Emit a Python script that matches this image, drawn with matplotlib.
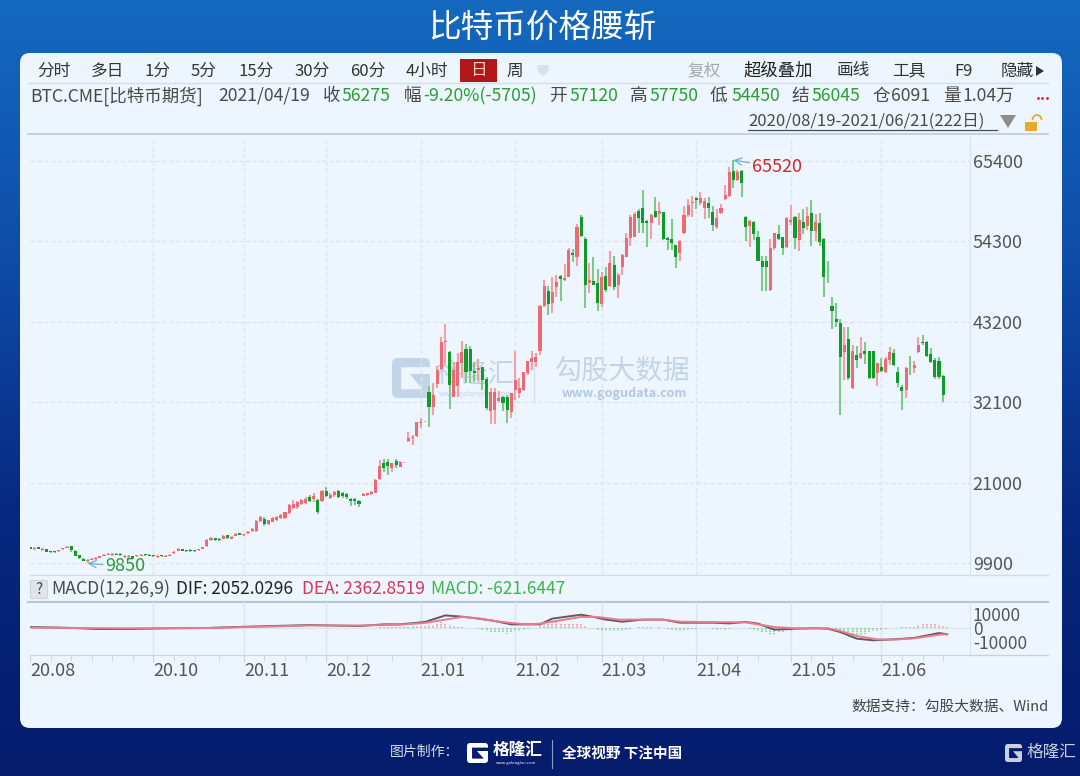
import numpy as np
import matplotlib
matplotlib.use("Agg")
import matplotlib.pyplot as plt
from matplotlib.colors import LinearSegmentedColormap
from matplotlib.patches import FancyBboxPatch, Rectangle, Polygon, Arc

plt.rcParams['font.family'] = ['Noto Sans CJK SC', 'DejaVu Sans']
plt.rcParams['axes.unicode_minus'] = False

W, H = 1080, 776

opens = [
    12040, 11820, 12090, 11680, 11790, 11570, 11530, 11500, 11770, 11950,
    12180, 11580, 11000, 10500, 10150, 10340, 10430, 10620, 10900, 11030,
    10980, 11200, 11120, 10700, 10720, 10800, 10800, 10900, 11100, 11060,
    10980, 10720, 10960, 10730, 10900, 11260, 11600, 11800, 11670, 11700,
    11650, 11640, 11860, 12180, 13100, 13290, 13250, 13280, 13740, 13230,
    13650, 14020, 13700, 14020, 14290, 14250, 15630, 16000, 15300, 15600,
    15900, 16100, 16100, 16800, 17500, 17700, 18000, 18200, 19000, 18700,
    18600, 18400, 19900, 18900, 19300, 19900, 19500, 19400, 18800, 18700,
    18500, 19200, 19300, 19400, 19600, 21500, 23700, 23900, 23000, 24000,
    23200, 23700,
    26806, 27128, 27450, 29198, 29360, 33568, 31406, 34626, 36650, 40468,
    39088, 32878, 34350, 37478, 39410, 39410, 36466, 36558, 36926, 35270,
    30946, 31038, 32326, 32786, 32786, 30808, 33798, 33430, 33798, 36098,
    37708, 37708,
    39228, 45438, 47508, 45852, 48060, 49532, 48980, 49440, 52660, 52200,
    57720, 54684, 48520, 48888, 48520, 45668, 49532, 48152, 51050, 48290,
    50728, 52200, 54730, 54960, 58548, 58870, 57168, 56892, 58548, 58088,
    58410, 54730, 54592, 53764, 52660, 55420, 57950, 59560, 60250, 59560,
    58870, 59560, 58410, 56248, 58272, 60112, 60572, 64068, 62780, 64068,
    57628, 56432, 57030, 54960, 51648, 51648, 47600, 53350, 55328, 54960,
    53580, 57030, 57628, 54500, 56938, 56432, 58272, 55788, 56800, 54638,
    49440, 45392, 43552, 43092, 39090, 40792, 34030, 38630, 38170, 39228,
    39182, 39182, 36100, 37020, 36330, 37940, 38952, 36330, 34260, 33800,
    36744, 36790, 39000, 40424, 40470, 38768, 37940, 37848, 35732,
]
highs = [
    12130, 12080, 12130, 11940, 11900, 11620, 11580, 11720, 12000, 12220,
    12270, 11630, 11000, 10600, 10400, 10600, 10700, 10900, 11180, 11300,
    11260, 11300, 11250, 10980, 10950, 10880, 11070, 11160, 11200, 11150,
    11060, 10960, 11040, 10950, 11130, 11530, 11950, 11900, 11760, 11790,
    11750, 11880, 12120, 13200, 13520, 13380, 13330, 13730, 13830, 13600,
    14020, 14110, 13970, 14300, 14800, 15780, 16320, 16200, 15900, 16200,
    16400, 16600, 17000, 18000, 18600, 18500, 18800, 19000, 19300, 19600,
    18800, 20000, 20400, 19600, 19900, 20000, 19700, 19500, 18900, 18900,
    18600, 19500, 19600, 19900, 21500, 24100, 24200, 24200, 23700, 24200,
    24000, 23800,
    28048, 27588, 29428, 29888, 29450, 34350, 34718, 37110, 41066, 42906,
    39226, 37708, 38858, 40606, 40146, 39870, 37708, 38030, 36926, 35546,
    34028, 34028, 33706, 32970, 33108, 33430, 39226, 35408, 36328, 37846,
    39226, 38950,
    45530, 48980, 48198, 49348, 49670, 49670, 51188, 53350, 53212, 56708,
    57950, 54960, 51372, 52200, 50452, 50130, 50728, 53028, 52292, 49900,
    52568, 55420, 57950, 58410, 58732, 61400, 57260, 58088, 60388, 59790,
    58410, 54960, 57352, 53764, 54500, 59192, 60204, 60572, 60388, 61170,
    60250, 60480, 59192, 58732, 59468, 62090, 64528, 65520, 64160, 64160,
    57812, 57260, 57168, 55788, 52292, 52292, 54592, 55512, 56570, 54960,
    57628, 59330, 57812, 58272, 58732, 59008, 60020, 58088, 58272, 54730,
    51648, 46588, 45852, 43598, 42540, 42540, 40010, 39872, 41068, 40470,
    39228, 39228, 37572, 38170, 38400, 39688, 39412, 37020, 34490, 37020,
    38492, 37848, 41160, 41390, 40562, 39550, 38170, 38308, 35824,
]
lows = [
    11770, 11720, 11770, 11600, 11350, 11300, 11300, 11440, 11700, 11950,
    11350, 10800, 10500, 10150, 9850, 10300, 10380, 10560, 10800, 10950,
    10900, 10950, 10850, 10620, 10650, 10550, 10720, 10850, 10880, 10830,
    10720, 10650, 10760, 10660, 10820, 11180, 11520, 11520, 11420, 11470,
    11440, 11560, 11780, 12130, 13000, 13000, 12980, 13200, 13280, 13150,
    13600, 13740, 13600, 13930, 14200, 14200, 15500, 15000, 15200, 15500,
    15700, 16000, 16000, 16700, 17400, 17400, 17900, 18000, 18300, 18300,
    16700, 18300, 19000, 18700, 19000, 18900, 18900, 18800, 17800, 17900,
    17600, 19100, 19200, 19300, 19500, 21400, 22500, 22000, 22500, 23000,
    23100, 23650,
    26668, 26208, 27358, 28508, 29320, 28650, 30348, 34028, 36558, 37248,
    31176, 32786, 32786, 35408, 34718, 34718, 34948, 35040, 33798, 31038,
    29106, 29106, 32188, 30946, 29198, 29980, 32418, 32648, 33706, 35868,
    36558, 37018,
    38630, 45300, 44150, 44472, 46680, 46082, 48842, 49348, 51510, 50912,
    54960, 45070, 47232, 48290, 44702, 45300, 47370, 48060, 47600, 46542,
    49670, 52108, 53672, 54868, 55512, 55420, 53580, 54592, 57490, 56570,
    54500, 53120, 53120, 50590, 51602, 55328, 57720, 57628, 58778, 59330,
    57352, 57490, 55788, 55972, 58088, 60020, 60480, 61630, 62688, 60388,
    54408, 53580, 54500, 51648, 47508, 47508, 47508, 53120, 54500, 52430,
    53350, 56570, 53212, 53028, 55328, 55880, 53672, 54408, 53672, 46588,
    48520, 42218, 42448, 30350, 35180, 35180, 33892, 36790, 38032, 37388,
    35272, 35272, 34352, 36330, 36100, 37250, 37112, 34260, 31040, 32650,
    35870, 36100, 38860, 40010, 38400, 37572, 35272, 35272, 32190,
]
closes = [
    11860, 11990, 11810, 11850, 11460, 11400, 11350, 11670, 11950, 12130,
    11720, 10800, 10600, 10200, 10340, 10520, 10610, 10800, 11070, 11210,
    11170, 11040, 10950, 10890, 10880, 10620, 10980, 11070, 10950, 10900,
    10800, 10880, 10820, 10870, 11060, 11440, 11830, 11620, 11490, 11550,
    11510, 11800, 12040, 13100, 13290, 13100, 13060, 13640, 13370, 13520,
    13930, 13830, 13880, 14200, 14660, 15630, 16300, 15300, 15800, 16100,
    16300, 16500, 16900, 17900, 18000, 18300, 18600, 18800, 18500, 19200,
    17000, 19800, 19200, 19300, 19700, 19000, 19200, 19000, 18500, 18500,
    18000, 19400, 19500, 19700, 21400, 23300, 23000, 23300, 23700, 23400,
    23800, 23740,
    27128, 27358, 29428, 29428, 29400, 31498, 33108, 36558, 40468, 40606,
    34488, 36558, 37708, 39088, 36328, 36466, 36098, 36788, 35178, 31268,
    33568, 33568, 32648, 32050, 31038, 33430, 35178, 34028, 36328, 37846,
    38168, 38306,
    45438, 48198, 45622, 47370, 48750, 49072, 49210, 53120, 52430, 56248,
    55052, 48290, 48980, 48290, 45852, 49440, 47600, 51372, 47968, 49670,
    52430, 54730, 57628, 58088, 57490, 56800, 56800, 57950, 57628, 58548,
    54592, 54500, 54132, 52108, 54408, 57950, 59330, 59790, 60020, 60250,
    59928, 58870, 56570, 57490, 58870, 60710, 63930, 62780, 63930, 62320,
    56340, 57168, 55328, 51648, 50728, 50728, 53350, 55420, 54592, 53350,
    57490, 57260, 54730, 57260, 56110, 57812, 55788, 57030, 54270, 49348,
    49348, 44748, 43230, 38400, 40010, 35410, 39228, 37940, 38860, 38768,
    35410, 35410, 37480, 36468, 38032, 39090, 37250, 34720, 33708, 36790,
    36652, 37250, 40010, 40240, 38492, 37710, 35548, 35548, 33110,
]

macd_hist = [
    100, 150, 100, 80, 60, -40, -60, -80, -60, -40,
    -30, -40, -50, -40, -30, -20, -20, -30, -20, -20,
    20, 30, 20, 30, 40, 30, 20, 20, 30, 20,
    20, 20, 30, 20, 20, 30, 20, 30, 40, 30,
    50, 60, 50, 70, 80, 100, 120, 150, 180, 160,
    140, 120, 150, 200, 220, 200, 240, 250, 220, 200,
    180, 220, 240, 260, 300, 280, 260, 240, 200, 150,
    100, 50, -50, -100, -150, -200, -250, -300, -350, -300,
    -250, -150, -100, 150, 300, 450,
    700, 700, 700, 700, 700, 700, 700, 1400, 1400, 1400,
    1400, 1900, 2400, 3300, 4300, 3800, 2400, 1400, 1000, 700,
    200, 100, 100, -900, -1400, -2400, -2900, -3300, -3600, -3800,
    -4300, -3600, -2400, -1900, -1400, -700, -200, 100, 2900, 3300,
    3800, 4300, 4000, 3800, 3300, 3100, 3100, 3300, 2900, 1400,
    300, 100, -1200, -1900, -2400, -2400, -2100, -2100, -2100, -1700,
    -500, 100, 900, 900, 700, 500, 200, 500, 100, -700,
    -1200, -1900, -2400, -2400, -1400, -700, -500, -100, -100, -100,
    -700, -1200, -1000, -1200, -700, -100, 200, 200, 200, -700,
    -1200, -1900, -2900, -3600, -5200, -4300, -3300, -2900, -2400, -1900,
    -500, -100, 100, 100, 100, 100, 100, 100, 100, -700,
    -1400, -2400, -3100, -4000, -4800, -5700, -5200, -4300, -3300, -2400,
    -1900, -1400, -1000, -100, 200, 200, 500, 500, 700, 1000,
    1900, 2900, 3300, 3600, 2900, 2400, 1400, 700,
]

dif_idx = [0, 11, 16, 24, 34, 43, 48, 56, 63, 68, 80, 86, 90, 96, 101, 105, 109,
           113, 117, 121, 124, 127, 130, 134, 137, 140, 144, 149, 154, 158, 166,
           170, 174, 177, 181, 186, 191, 194, 197, 201, 205, 210, 215, 221, 223]
dif_val = [700, 0, -700, -700, -200, 0, 500, 1200, 1700, 2100, 1400, 2600, 2600,
           4300, 9000, 8100, 6700, 5000, 2600, 2600, 2600, 6700, 7900, 9500, 7900,
           6000, 4500, 6000, 6000, 3800, 3800, 3300, 4300, 3100, -1200, -500, -200,
           -500, -2900, -7600, -8800, -8100, -7100, -3600, -4500]
dea_idx = [0, 16, 24, 43, 48, 56, 68, 80, 86, 91, 96, 101, 105, 109, 113, 117, 121,
           124, 128, 134, 138, 143, 149, 154, 158, 174, 181, 186, 194, 197, 201,
           206, 210, 215, 221, 223]
dea_val = [300, -100, -200, 0, 300, 900, 1800, 1800, 2100, 2600, 3600, 6000, 7900,
           6900, 5000, 3600, 2600, 3100, 5000, 7900, 7900, 6000, 6000, 6000, 4500,
           4000, 700, -200, -200, -2100, -5700, -8100, -8300, -7400, -4800, -4500]

y_ticks = [65400, 54300, 43200, 32100, 21000, 9900]
macd_ticks = [10000, 0, -10000]
month_idx = [0, 30, 52, 72, 95, 118, 139, 162, 185, 207]
month_labels = ['20.08', '20.10', '20.11', '20.12', '21.01', '21.02', '21.03', '21.04', '21.05', '21.06']
week_idx = [0, 5, 10, 15, 20, 25, 30, 35, 40, 46, 52, 57, 62, 67, 72, 77, 82, 88, 95, 100,
            105, 110, 118, 123, 128, 133, 139, 144, 149, 154, 162, 167, 172, 177, 185,
            190, 195, 200, 207, 212, 217, 222]

TEXT = '#4a4a4a'
GREEN = '#2a9d34'
GRID = '#dde5ec'
CARD = '#edf6fe'
RED_BODY = '#ec6a73'
RED_WICK = '#f2a0a6'
GREEN_BODY = '#0f9a2a'
GREEN_WICK = '#80c98d'


def rect(x0, y0, x1, y1):
    return [x0 / W, 1 - y1 / H, (x1 - x0) / W, (y1 - y0) / H]


fig = plt.figure(figsize=(W / 100, H / 100), dpi=100)

# page furniture, in pixels
bg = fig.add_axes([0, 0, 1, 1], zorder=0)
bg.set_xlim(0, W)
bg.set_ylim(H, 0)
bg.axis('off')
cmap = LinearSegmentedColormap.from_list('page', ['#1569bf', '#0e4ca8', '#07287f', '#051c6c'])
bg.imshow(np.linspace(0, 1, 256).reshape(-1, 1), cmap=cmap, aspect='auto', extent=(0, W, H, 0), zorder=0)
bg.add_patch(FancyBboxPatch((20, 53), 1042, 675, boxstyle='round,pad=0,rounding_size=10',
                            fc=CARD, ec='none', zorder=1))


def label(x, y, s, size=12, color=TEXT, ha='left', **kw):
    bg.text(x, y, s, fontsize=size, color=color, ha=ha, va='center', zorder=3, **kw)


def logo(x, y, w, h, fc, cut):
    # block with the notch of the G mark
    bg.add_patch(FancyBboxPatch((x, y), w, h, boxstyle='round,pad=0,rounding_size=%g' % (h * 0.15),
                                fc=fc, ec='none', zorder=2))
    pts = [(0.24, 0.23), (1.02, 0.23), (1.02, 0.40), (0.47, 0.40), (0.80, 0.78), (0.24, 0.78)]
    bg.add_patch(Polygon([(x + a * w, y + b * h) for a, b in pts], fc=cut, ec='none', zorder=2))


label(542.5, 28, '比特币价格腰斩', size=23.5, color='white', ha='center')

for s, x in [('分时', 37), ('多日', 91), ('1分', 144), ('5分', 191), ('15分', 238),
             ('30分', 294), ('60分', 350), ('4小时', 406)]:
    label(x, 71, s, color='#333333')
bg.add_patch(Rectangle((460, 59), 37, 23, fc='#b01818', ec='none', zorder=2))
label(478.5, 71, '日', color='#f3c9c9', ha='center')
label(506, 71, '周', color='#333333')
bg.add_patch(Polygon([(537, 65), (549, 65), (548, 72), (543, 76), (538, 72)], fc='#d5e1ee', ec='none', zorder=2))
label(688, 71, '复权', color='#a8a8a8')
label(744, 71, '超级叠加', size=12.5, color='#222222', fontweight='medium')
label(836, 71, '画线', color='#333333')
label(892, 71, '工具', color='#333333')
label(954, 71, 'F9', color='#333333')
label(1001, 71, '隐藏', color='#333333')
bg.add_patch(Polygon([(1036, 66), (1044, 71), (1036, 76)], fc='#333333', ec='none', zorder=2))
bg.plot([28, 1048], [83, 83], color='#d3dde7', lw=1, zorder=2)

label(30, 96, 'BTC.CME[比特币期货]', size=12.6)
label(218, 96, '2021/04/19', size=12.7)
for s, x, v, vx in [('收', 323, '56275', 342), ('幅', 404, '-9.20%(-5705)', 423), ('开', 549, '57120', 569),
                    ('高', 630, '57750', 650), ('低', 710, '54450', 731), ('结', 791, '56045', 812)]:
    label(x, 96, s, size=12.7)
    label(vx, 96, v, size=12.7, color=GREEN)
label(872, 96, '仓', size=12.7)
label(891, 96, '6091', size=12.7)
label(943, 96, '量', size=12.7)
label(962, 96, '1.04万', size=12.7)
label(1036, 95, '...', size=11, color='#d82020', fontweight='bold')

label(748, 121, '2020/08/19-2021/06/21(222日)')
bg.plot([748, 997], [130, 130], color=TEXT, lw=0.9, zorder=3)
bg.add_patch(Polygon([(1000, 115), (1016, 115), (1008, 128)], fc='#8c8c8c', ec='none', zorder=3))
bg.add_patch(Rectangle((1025, 122), 12, 9, fc='#e6a92a', ec='none', zorder=3))
bg.add_patch(Arc((1037, 120), 9, 10, theta1=180, theta2=360, ec='#e6a92a', lw=1.3, zorder=3))
bg.plot([28, 1048], [134, 134], color='#bccad8', lw=1.2, zorder=2)

# watermark under the candles
logo(392, 358, 38, 40, '#c3d4e9', CARD)
bg.text(475, 374, '格隆汇', fontsize=19, color='#c3d4e9', ha='center', va='center', zorder=2)
bg.text(476, 394, 'www.gelonghui.com', fontsize=5.5, color='#c3d4e9', ha='center', va='center', zorder=2)
bg.plot([534, 534], [357, 402], color='#d3e0ed', lw=1, zorder=2)
bg.text(623, 371, '勾股大数据', fontsize=19.5, color='#c3d4e9', ha='center', va='center', zorder=2)
bg.text(624.5, 393, 'www.gogudata.com', fontsize=9, color='#b3c7e2', fontweight='bold',
        ha='center', va='center', zorder=2)

# MACD legend row
bg.add_patch(Rectangle((30, 580), 17, 18, fc='#dfe5ea', ec='#cfd6dc', lw=0.8, zorder=2))
label(38.5, 589, '?', size=11, ha='center')
label(51, 589, 'MACD(12,26,9)', size=12.7)
label(176, 589, 'DIF: 2052.0296', size=12.5, color='#222222', fontweight='medium')
label(302, 589, 'DEA: 2362.8519', size=12.5, color='#d9365a')
label(431, 589, 'MACD: -621.6447', size=12.5, color='#3cb54a')

label(1049, 707, '数据支持：勾股大数据、Wind', size=10.6, color='#444444', ha='right')

# footer
label(390, 752, '图片制作：', size=10, color='#d6dceb')
logo(467, 743, 21, 20, 'white', '#051c6c')
label(493, 750, '格隆汇', size=12, color='white', fontweight='bold')
bg.text(516, 763, 'www.gelonghui.com', fontsize=3, color='white', ha='center', va='center', zorder=3)
bg.plot([552, 552], [740, 768], color='#8e9cc6', lw=0.8, zorder=2)
label(562, 753, '全球视野 下注中国', size=10.5, color='white', fontweight='bold')
logo(1005, 744, 17, 18, '#c8cfe0', '#051c6c')
label(1027, 752, '格隆汇', size=12, color='#c8cfe0')

# price panel
idx = np.arange(len(closes))
o = np.array(opens)
c = np.array(closes)
up = c >= o

left_px, right_px = 30 - 0.5, 970
xlim = ((left_px - 30) / 4.113, (right_px - 30) / 4.113)

ax = fig.add_axes(rect(left_px, 137, right_px, 575), zorder=1)
ax.patch.set_alpha(0)
ax.set_xlim(*xlim)
ax.set_ylim(65400 - (575 - 161) * 138.06, 65400 + (161 - 137) * 138.06)
ax.vlines(idx[up], np.array(lows)[up], np.array(highs)[up], color=RED_WICK, lw=1.5, zorder=2)
ax.vlines(idx[~up], np.array(lows)[~up], np.array(highs)[~up], color=GREEN_WICK, lw=1.5, zorder=2)
ax.bar(idx[up], (c - o)[up], bottom=o[up], width=0.75, color=RED_BODY, zorder=3)
ax.bar(idx[~up], (o - c)[~up], bottom=c[~up], width=0.75, color=GREEN_BODY, zorder=3)
ax.set_yticks(y_ticks)
ax.set_xticks(month_idx)
ax.grid(True, color=GRID, lw=1, ls=(0, (3, 2)), zorder=0)
ax.get_xgridlines()[0].set_visible(False)
ax.tick_params(length=0, labelbottom=False, labelleft=False, labelright=True, labelsize=13, labelcolor='#555555', pad=2)
for side in ['top', 'left']:
    ax.spines[side].set_visible(False)
ax.spines['right'].set_color('#dbe3ea')
ax.spines['bottom'].set_color('#d3dce4')

hi = int(np.argmax(highs))
lo = int(np.argmin(lows))
arrow = dict(arrowstyle='->', color='#69b4cf', lw=0.9, shrinkA=0, shrinkB=0)
ax.annotate('65520', xy=(hi, highs[hi]), xytext=(19, -7), textcoords='offset pixels', fontsize=13,
            color='#cf2a2a', va='center', arrowprops=arrow)
ax.annotate('9850', xy=(lo, lows[lo]), xytext=(18, -3), textcoords='offset pixels', fontsize=13,
            color=GREEN, va='center', arrowprops=arrow)

# MACD panel
ax2 = fig.add_axes(rect(left_px, 602, right_px, 655), zorder=1)
ax2.patch.set_alpha(0)
ax2.set_xlim(*xlim)
ax2.set_ylim(-27 * 1000 / 1.4, 26 * 1000 / 1.4)
hist = np.array(macd_hist)
hx = np.arange(len(hist))
ax2.vlines(hx[hist > 0], 0, hist[hist > 0], color='#f28f95', lw=1.1, ls=(0, (1, 0.6)), zorder=2)
ax2.vlines(hx[hist < 0], 0, hist[hist < 0], color='#76cf84', lw=1.1, ls=(0, (1, 0.6)), zorder=2)
ax2.axhline(0, color='#dde5ec', lw=0.9, zorder=1)
ax2.plot(dif_idx, dif_val, color='#5c5c5c', lw=1.4, zorder=3)
ax2.plot(dea_idx, dea_val, color='#ec7a8e', lw=1.4, zorder=4)
ax2.set_yticks(macd_ticks)
ax2.set_xticks(month_idx)
ax2.set_xticks(week_idx, minor=True)
ax2.set_xticklabels(month_labels, ha='left')
ax2.grid(True, axis='x', color=GRID, lw=1, zorder=0)
ax2.get_xgridlines()[0].set_visible(False)
ax2.tick_params(axis='y', length=0, labelleft=False, labelright=True, labelsize=12.5, labelcolor='#555555', pad=2)
ax2.tick_params(axis='x', which='major', length=5, color='#c8d3dd', labelsize=13, labelcolor='#555555', pad=0)
ax2.tick_params(axis='x', which='minor', length=4, color='#c8d3dd')
for side in ['top', 'left']:
    ax2.spines[side].set_visible(False)
ax2.spines['right'].set_color('#dbe3ea')
ax2.spines['bottom'].set_color('#c8d3dd')
bg.plot([28, 1048], [602, 602], color='#b3c6d6', lw=1.5, zorder=2)
bg.plot([970, 1048], [655, 655], color='#c8d3dd', lw=1, zorder=2)
bg.plot([970, 1048], [575, 575], color='#d3dce4', lw=1, zorder=2)

fig.savefig('out.png', dpi=100)
